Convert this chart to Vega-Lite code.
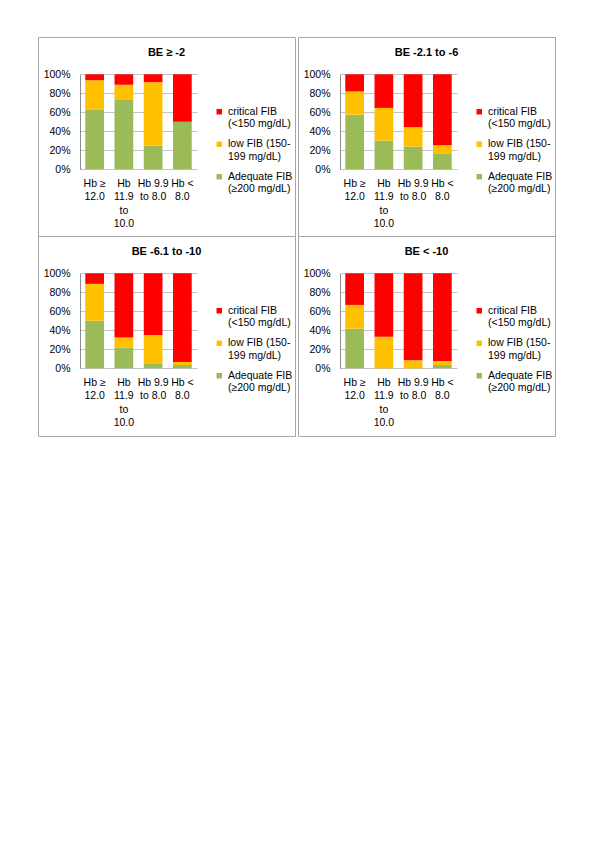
{
  "$schema": "https://vega.github.io/schema/vega-lite/v6.json",
  "padding": {"left": 37, "top": 36, "right": 5, "bottom": 5},
  "background": "white",
  "datasets": {
    "fib": [
      {"panel": "BE ≥ -2", "hb": "Hb ≥ 12.0", "fib": "Adequate FIB (≥200 mg/dL)", "rank": 1, "pct": 62.5},
      {"panel": "BE ≥ -2", "hb": "Hb ≥ 12.0", "fib": "low FIB (150-199 mg/dL)", "rank": 2, "pct": 31.25},
      {"panel": "BE ≥ -2", "hb": "Hb ≥ 12.0", "fib": "critical FIB (<150 mg/dL)", "rank": 3, "pct": 6.25},
      {"panel": "BE ≥ -2", "hb": "Hb 11.9 to 10.0", "fib": "Adequate FIB (≥200 mg/dL)", "rank": 1, "pct": 73},
      {"panel": "BE ≥ -2", "hb": "Hb 11.9 to 10.0", "fib": "low FIB (150-199 mg/dL)", "rank": 2, "pct": 16},
      {"panel": "BE ≥ -2", "hb": "Hb 11.9 to 10.0", "fib": "critical FIB (<150 mg/dL)", "rank": 3, "pct": 11},
      {"panel": "BE ≥ -2", "hb": "Hb 9.9 to 8.0", "fib": "Adequate FIB (≥200 mg/dL)", "rank": 1, "pct": 25},
      {"panel": "BE ≥ -2", "hb": "Hb 9.9 to 8.0", "fib": "low FIB (150-199 mg/dL)", "rank": 2, "pct": 66.7},
      {"panel": "BE ≥ -2", "hb": "Hb 9.9 to 8.0", "fib": "critical FIB (<150 mg/dL)", "rank": 3, "pct": 8.3},
      {"panel": "BE ≥ -2", "hb": "Hb < 8.0", "fib": "Adequate FIB (≥200 mg/dL)", "rank": 1, "pct": 50},
      {"panel": "BE ≥ -2", "hb": "Hb < 8.0", "fib": "low FIB (150-199 mg/dL)", "rank": 2, "pct": 0},
      {"panel": "BE ≥ -2", "hb": "Hb < 8.0", "fib": "critical FIB (<150 mg/dL)", "rank": 3, "pct": 50},

      {"panel": "BE -2.1 to -6", "hb": "Hb ≥ 12.0", "fib": "Adequate FIB (≥200 mg/dL)", "rank": 1, "pct": 57.5},
      {"panel": "BE -2.1 to -6", "hb": "Hb ≥ 12.0", "fib": "low FIB (150-199 mg/dL)", "rank": 2, "pct": 24.5},
      {"panel": "BE -2.1 to -6", "hb": "Hb ≥ 12.0", "fib": "critical FIB (<150 mg/dL)", "rank": 3, "pct": 18},
      {"panel": "BE -2.1 to -6", "hb": "Hb 11.9 to 10.0", "fib": "Adequate FIB (≥200 mg/dL)", "rank": 1, "pct": 30.2},
      {"panel": "BE -2.1 to -6", "hb": "Hb 11.9 to 10.0", "fib": "low FIB (150-199 mg/dL)", "rank": 2, "pct": 34.4},
      {"panel": "BE -2.1 to -6", "hb": "Hb 11.9 to 10.0", "fib": "critical FIB (<150 mg/dL)", "rank": 3, "pct": 35.4},
      {"panel": "BE -2.1 to -6", "hb": "Hb 9.9 to 8.0", "fib": "Adequate FIB (≥200 mg/dL)", "rank": 1, "pct": 23.9},
      {"panel": "BE -2.1 to -6", "hb": "Hb 9.9 to 8.0", "fib": "low FIB (150-199 mg/dL)", "rank": 2, "pct": 20.3},
      {"panel": "BE -2.1 to -6", "hb": "Hb 9.9 to 8.0", "fib": "critical FIB (<150 mg/dL)", "rank": 3, "pct": 55.8},
      {"panel": "BE -2.1 to -6", "hb": "Hb < 8.0", "fib": "Adequate FIB (≥200 mg/dL)", "rank": 1, "pct": 16.8},
      {"panel": "BE -2.1 to -6", "hb": "Hb < 8.0", "fib": "low FIB (150-199 mg/dL)", "rank": 2, "pct": 8.5},
      {"panel": "BE -2.1 to -6", "hb": "Hb < 8.0", "fib": "critical FIB (<150 mg/dL)", "rank": 3, "pct": 74.7},

      {"panel": "BE -6.1 to -10", "hb": "Hb ≥ 12.0", "fib": "Adequate FIB (≥200 mg/dL)", "rank": 1, "pct": 50},
      {"panel": "BE -6.1 to -10", "hb": "Hb ≥ 12.0", "fib": "low FIB (150-199 mg/dL)", "rank": 2, "pct": 38.9},
      {"panel": "BE -6.1 to -10", "hb": "Hb ≥ 12.0", "fib": "critical FIB (<150 mg/dL)", "rank": 3, "pct": 11.1},
      {"panel": "BE -6.1 to -10", "hb": "Hb 11.9 to 10.0", "fib": "Adequate FIB (≥200 mg/dL)", "rank": 1, "pct": 21.8},
      {"panel": "BE -6.1 to -10", "hb": "Hb 11.9 to 10.0", "fib": "low FIB (150-199 mg/dL)", "rank": 2, "pct": 10.5},
      {"panel": "BE -6.1 to -10", "hb": "Hb 11.9 to 10.0", "fib": "critical FIB (<150 mg/dL)", "rank": 3, "pct": 67.7},
      {"panel": "BE -6.1 to -10", "hb": "Hb 9.9 to 8.0", "fib": "Adequate FIB (≥200 mg/dL)", "rank": 1, "pct": 5.3},
      {"panel": "BE -6.1 to -10", "hb": "Hb 9.9 to 8.0", "fib": "low FIB (150-199 mg/dL)", "rank": 2, "pct": 29.8},
      {"panel": "BE -6.1 to -10", "hb": "Hb 9.9 to 8.0", "fib": "critical FIB (<150 mg/dL)", "rank": 3, "pct": 64.9},
      {"panel": "BE -6.1 to -10", "hb": "Hb < 8.0", "fib": "Adequate FIB (≥200 mg/dL)", "rank": 1, "pct": 3.5},
      {"panel": "BE -6.1 to -10", "hb": "Hb < 8.0", "fib": "low FIB (150-199 mg/dL)", "rank": 2, "pct": 3.2},
      {"panel": "BE -6.1 to -10", "hb": "Hb < 8.0", "fib": "critical FIB (<150 mg/dL)", "rank": 3, "pct": 93.3},

      {"panel": "BE < -10", "hb": "Hb ≥ 12.0", "fib": "Adequate FIB (≥200 mg/dL)", "rank": 1, "pct": 41.7},
      {"panel": "BE < -10", "hb": "Hb ≥ 12.0", "fib": "low FIB (150-199 mg/dL)", "rank": 2, "pct": 25},
      {"panel": "BE < -10", "hb": "Hb ≥ 12.0", "fib": "critical FIB (<150 mg/dL)", "rank": 3, "pct": 33.3},
      {"panel": "BE < -10", "hb": "Hb 11.9 to 10.0", "fib": "Adequate FIB (≥200 mg/dL)", "rank": 1, "pct": 0},
      {"panel": "BE < -10", "hb": "Hb 11.9 to 10.0", "fib": "low FIB (150-199 mg/dL)", "rank": 2, "pct": 33.3},
      {"panel": "BE < -10", "hb": "Hb 11.9 to 10.0", "fib": "critical FIB (<150 mg/dL)", "rank": 3, "pct": 66.7},
      {"panel": "BE < -10", "hb": "Hb 9.9 to 8.0", "fib": "Adequate FIB (≥200 mg/dL)", "rank": 1, "pct": 0},
      {"panel": "BE < -10", "hb": "Hb 9.9 to 8.0", "fib": "low FIB (150-199 mg/dL)", "rank": 2, "pct": 8.4},
      {"panel": "BE < -10", "hb": "Hb 9.9 to 8.0", "fib": "critical FIB (<150 mg/dL)", "rank": 3, "pct": 91.6},
      {"panel": "BE < -10", "hb": "Hb < 8.0", "fib": "Adequate FIB (≥200 mg/dL)", "rank": 1, "pct": 3.5},
      {"panel": "BE < -10", "hb": "Hb < 8.0", "fib": "low FIB (150-199 mg/dL)", "rank": 2, "pct": 4.2},
      {"panel": "BE < -10", "hb": "Hb < 8.0", "fib": "critical FIB (<150 mg/dL)", "rank": 3, "pct": 92.3}
    ]
  },
  "config": {
    "font": "Liberation Sans",
    "view": {"stroke": "#a6a6a6", "strokeWidth": 1},
    "axis": {"labelFont": "Liberation Sans", "labelFontSize": 10.5, "labelColor": "#000000", "ticks": false, "tickSize": 0, "title": null},
    "legend": {
      "labelFont": "Liberation Sans", "labelFontSize": 10.5, "labelColor": "#000000",
      "symbolType": "square", "symbolSize": 30, "symbolStrokeWidth": 0, "symbolOpacity": 1,
      "labelOffset": 3.5, "rowPadding": 8.5, "padding": 0, "labelLimit": 200, "title": null
    },
    "title": {"font": "Liberation Sans", "fontSize": 11, "fontWeight": "bold", "color": "#000000", "anchor": "middle", "frame": "group", "offset": -21, "baseline": "alphabetic"},
    "bar": {"strokeWidth": 0}
  },
  "columns": 2,
  "spacing": {"row": 0, "column": 3},
  "bounds": "flush",
  "resolve": {"scale": {"color": "independent", "x": "independent", "y": "independent"}, "legend": {"color": "independent"}},
  "concat": [
    {
      "width": 257, "height": 199,
      "data": {"name": "fib"},
      "transform": [{"filter": "datum.panel === 'BE ≥ -2'"}],
      "title": {"text": "BE ≥ -2"},
      "mark": {"type": "bar"},
      "encoding": {
        "x": {"field": "hb", "type": "nominal", "sort": ["Hb ≥ 12.0", "Hb 11.9 to 10.0", "Hb 9.9 to 8.0", "Hb < 8.0"],
          "scale": {"range": [42, 159], "paddingInner": 0.36, "paddingOuter": 0.18},
          "axis": {"offset": -66.7, "labelAngle": 0, "domain": false, "grid": false, "labelPadding": 9, "labelBaseline": "top", "labelLineHeight": 13.5,
            "labelExpr": "datum.label == 'Hb ≥ 12.0' ? ['Hb ≥', '12.0'] : datum.label == 'Hb 11.9 to 10.0' ? ['Hb', '11.9', 'to', '10.0'] : datum.label == 'Hb 9.9 to 8.0' ? ['Hb 9.9', 'to 8.0'] : ['Hb <', '8.0']"}},
        "y": {"field": "pct", "type": "quantitative", "stack": "normalize",
          "scale": {"range": [132.3, 37.3]},
          "axis": {"offset": -42, "format": ".0%", "values": [0, 0.2, 0.4, 0.6, 0.8, 1], "grid": true, "gridColor": "#c4c4c4", "domainColor": "#8c8c8c", "labelPadding": 10}},
        "color": {"field": "fib", "type": "nominal",
          "scale": {"domain": ["critical FIB (<150 mg/dL)", "low FIB (150-199 mg/dL)", "Adequate FIB (≥200 mg/dL)"], "range": ["#ff0000", "#ffc000", "#9bbb59"]},
          "legend": {"orient": "none", "legendX": 176, "legendY": 69.5,
            "labelExpr": "datum.label == 'critical FIB (<150 mg/dL)' ? ['critical FIB', '(<150 mg/dL)'] : datum.label == 'low FIB (150-199 mg/dL)' ? ['low FIB (150-', '199 mg/dL)'] : ['Adequate FIB', '(≥200 mg/dL)']",
            "encode": {"labels": {"update": {"lineHeight": {"value": 13}}}}}},
        "order": {"field": "rank", "type": "quantitative"}
      }
    },
    {
      "width": 257, "height": 199,
      "data": {"name": "fib"},
      "transform": [{"filter": "datum.panel === 'BE -2.1 to -6'"}],
      "title": {"text": "BE -2.1 to -6"},
      "mark": {"type": "bar"},
      "encoding": {
        "x": {"field": "hb", "type": "nominal", "sort": ["Hb ≥ 12.0", "Hb 11.9 to 10.0", "Hb 9.9 to 8.0", "Hb < 8.0"],
          "scale": {"range": [42, 159], "paddingInner": 0.36, "paddingOuter": 0.18},
          "axis": {"offset": -66.7, "labelAngle": 0, "domain": false, "grid": false, "labelPadding": 9, "labelBaseline": "top", "labelLineHeight": 13.5,
            "labelExpr": "datum.label == 'Hb ≥ 12.0' ? ['Hb ≥', '12.0'] : datum.label == 'Hb 11.9 to 10.0' ? ['Hb', '11.9', 'to', '10.0'] : datum.label == 'Hb 9.9 to 8.0' ? ['Hb 9.9', 'to 8.0'] : ['Hb <', '8.0']"}},
        "y": {"field": "pct", "type": "quantitative", "stack": "normalize",
          "scale": {"range": [132.3, 37.3]},
          "axis": {"offset": -42, "format": ".0%", "values": [0, 0.2, 0.4, 0.6, 0.8, 1], "grid": true, "gridColor": "#c4c4c4", "domainColor": "#8c8c8c", "labelPadding": 10}},
        "color": {"field": "fib", "type": "nominal",
          "scale": {"domain": ["critical FIB (<150 mg/dL)", "low FIB (150-199 mg/dL)", "Adequate FIB (≥200 mg/dL)"], "range": ["#ff0000", "#ffc000", "#9bbb59"]},
          "legend": {"orient": "none", "legendX": 176, "legendY": 69.5,
            "labelExpr": "datum.label == 'critical FIB (<150 mg/dL)' ? ['critical FIB', '(<150 mg/dL)'] : datum.label == 'low FIB (150-199 mg/dL)' ? ['low FIB (150-', '199 mg/dL)'] : ['Adequate FIB', '(≥200 mg/dL)']",
            "encode": {"labels": {"update": {"lineHeight": {"value": 13}}}}}},
        "order": {"field": "rank", "type": "quantitative"}
      }
    },
    {
      "width": 257, "height": 200,
      "data": {"name": "fib"},
      "transform": [{"filter": "datum.panel === 'BE -6.1 to -10'"}],
      "title": {"text": "BE -6.1 to -10"},
      "mark": {"type": "bar"},
      "encoding": {
        "x": {"field": "hb", "type": "nominal", "sort": ["Hb ≥ 12.0", "Hb 11.9 to 10.0", "Hb 9.9 to 8.0", "Hb < 8.0"],
          "scale": {"range": [42, 159], "paddingInner": 0.36, "paddingOuter": 0.18},
          "axis": {"offset": -67.7, "labelAngle": 0, "domain": false, "grid": false, "labelPadding": 9, "labelBaseline": "top", "labelLineHeight": 13.5,
            "labelExpr": "datum.label == 'Hb ≥ 12.0' ? ['Hb ≥', '12.0'] : datum.label == 'Hb 11.9 to 10.0' ? ['Hb', '11.9', 'to', '10.0'] : datum.label == 'Hb 9.9 to 8.0' ? ['Hb 9.9', 'to 8.0'] : ['Hb <', '8.0']"}},
        "y": {"field": "pct", "type": "quantitative", "stack": "normalize",
          "scale": {"range": [132.3, 37.3]},
          "axis": {"offset": -42, "format": ".0%", "values": [0, 0.2, 0.4, 0.6, 0.8, 1], "grid": true, "gridColor": "#c4c4c4", "domainColor": "#8c8c8c", "labelPadding": 10}},
        "color": {"field": "fib", "type": "nominal",
          "scale": {"domain": ["critical FIB (<150 mg/dL)", "low FIB (150-199 mg/dL)", "Adequate FIB (≥200 mg/dL)"], "range": ["#ff0000", "#ffc000", "#9bbb59"]},
          "legend": {"orient": "none", "legendX": 176, "legendY": 69.5,
            "labelExpr": "datum.label == 'critical FIB (<150 mg/dL)' ? ['critical FIB', '(<150 mg/dL)'] : datum.label == 'low FIB (150-199 mg/dL)' ? ['low FIB (150-', '199 mg/dL)'] : ['Adequate FIB', '(≥200 mg/dL)']",
            "encode": {"labels": {"update": {"lineHeight": {"value": 13}}}}}},
        "order": {"field": "rank", "type": "quantitative"}
      }
    },
    {
      "width": 257, "height": 200,
      "data": {"name": "fib"},
      "transform": [{"filter": "datum.panel === 'BE < -10'"}],
      "title": {"text": "BE < -10"},
      "mark": {"type": "bar"},
      "encoding": {
        "x": {"field": "hb", "type": "nominal", "sort": ["Hb ≥ 12.0", "Hb 11.9 to 10.0", "Hb 9.9 to 8.0", "Hb < 8.0"],
          "scale": {"range": [42, 159], "paddingInner": 0.36, "paddingOuter": 0.18},
          "axis": {"offset": -67.7, "labelAngle": 0, "domain": false, "grid": false, "labelPadding": 9, "labelBaseline": "top", "labelLineHeight": 13.5,
            "labelExpr": "datum.label == 'Hb ≥ 12.0' ? ['Hb ≥', '12.0'] : datum.label == 'Hb 11.9 to 10.0' ? ['Hb', '11.9', 'to', '10.0'] : datum.label == 'Hb 9.9 to 8.0' ? ['Hb 9.9', 'to 8.0'] : ['Hb <', '8.0']"}},
        "y": {"field": "pct", "type": "quantitative", "stack": "normalize",
          "scale": {"range": [132.3, 37.3]},
          "axis": {"offset": -42, "format": ".0%", "values": [0, 0.2, 0.4, 0.6, 0.8, 1], "grid": true, "gridColor": "#c4c4c4", "domainColor": "#8c8c8c", "labelPadding": 10}},
        "color": {"field": "fib", "type": "nominal",
          "scale": {"domain": ["critical FIB (<150 mg/dL)", "low FIB (150-199 mg/dL)", "Adequate FIB (≥200 mg/dL)"], "range": ["#ff0000", "#ffc000", "#9bbb59"]},
          "legend": {"orient": "none", "legendX": 176, "legendY": 69.5,
            "labelExpr": "datum.label == 'critical FIB (<150 mg/dL)' ? ['critical FIB', '(<150 mg/dL)'] : datum.label == 'low FIB (150-199 mg/dL)' ? ['low FIB (150-', '199 mg/dL)'] : ['Adequate FIB', '(≥200 mg/dL)']",
            "encode": {"labels": {"update": {"lineHeight": {"value": 13}}}}}},
        "order": {"field": "rank", "type": "quantitative"}
      }
    }
  ]
}
